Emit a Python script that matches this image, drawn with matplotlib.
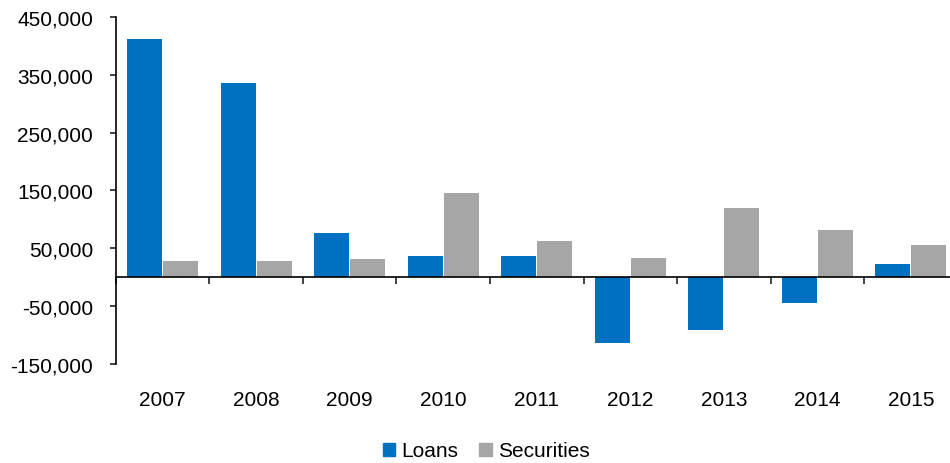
import matplotlib
matplotlib.use("Agg")
import matplotlib.pyplot as plt
from matplotlib.patches import Patch
from matplotlib.ticker import FuncFormatter

plt.rcParams['font.family'] = ['Liberation Sans', 'DejaVu Sans']

years = ['2007', '2008', '2009', '2010', '2011', '2012', '2013', '2014', '2015']
loans = [411700, 335200, 76000, 36000, 36000, -114800, -92800, -45800, 22000]
securities = [27300, 27300, 30700, 145600, 62000, 32500, 119500, 81200, 55100]
y_ticks = [-150000, -50000, 50000, 150000, 250000, 350000, 450000]

blue = '#0070C0'
grey = '#A6A6A6'
fs = 15

fig = plt.figure(figsize=(9.5, 4.64), dpi=100)
ax = fig.add_axes([0.1221, 0.2144, 0.8858, 0.7466])

idx = list(range(len(years)))
w = 0.375
ax.bar([i - w / 2 - 0.006 for i in idx], loans, width=w, color=blue, zorder=2)
ax.bar([i + w / 2 + 0.006 for i in idx], securities, width=w, color=grey, zorder=2)

ax.set_xlim(-0.5, len(years) - 0.5)
ax.set_ylim(-150000, 450000)
ax.set_yticks(y_ticks)
ax.yaxis.set_major_formatter(FuncFormatter(lambda v, p: f"{int(v):,}"))

for s in ['top', 'right']:
    ax.spines[s].set_visible(False)
ax.spines['bottom'].set_position(('data', 0))
ax.spines['bottom'].set_linewidth(1.2)
ax.spines['bottom'].set_zorder(3)
ax.spines['left'].set_linewidth(1.2)

ax.set_xticks([i - 0.5 for i in idx])
ax.set_xticklabels([])
ax.tick_params(axis='x', direction='out', length=5, width=1.2, color='#222222')
ax.tick_params(axis='y', direction='out', length=4.5, width=1.2, labelsize=fs, pad=12,
               color='#222222')

for i, yr in zip(idx, years):
    ax.text(i, -0.1025, yr, transform=ax.get_xaxis_transform(), ha='center',
            va='center', fontsize=fs)

handles = [Patch(color=blue, label='Loans'), Patch(color=grey, label='Securities')]
fig.legend(handles=handles, loc='center', bbox_to_anchor=(0.512, 0.026), ncol=2,
           frameon=False, fontsize=fs, handlelength=0.58, handleheight=0.58,
           handletextpad=0.3, columnspacing=1.0)

fig.savefig('out.png', dpi=100)
